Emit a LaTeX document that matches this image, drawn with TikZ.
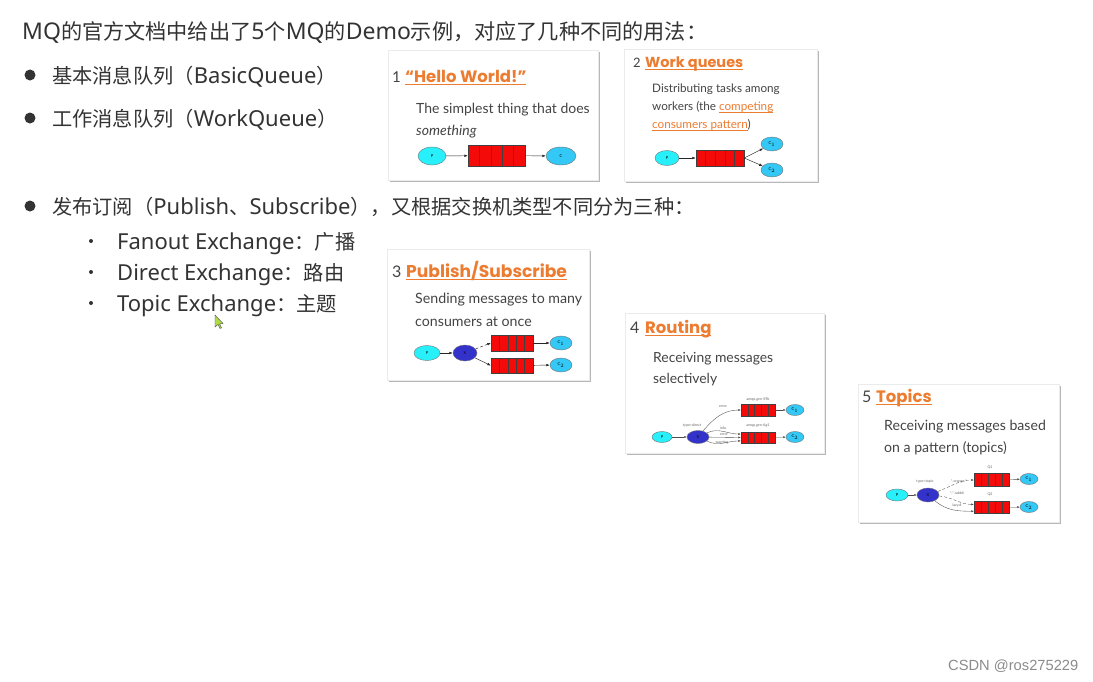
\documentclass[tikz,border=0pt]{standalone}
\usepackage{fontspec}
\setmainfont{Noto Sans}
\newfontfamily\cjk[Scale=0.92]{Noto Sans CJK SC}
\newfontfamily\cardfont{Lato}
\newfontfamily\titlefont{Poppins}
\newfontfamily\wmfont{Liberation Sans}
\usetikzlibrary{shapes.geometric,arrows.meta,shadows,calc}
\definecolor{txt}{RGB}{51,51,51}
\definecolor{ctxt}{RGB}{68,68,68}
\definecolor{org}{RGB}{236,124,48}
\definecolor{pcol}{RGB}{40,240,250}
\definecolor{ccol}{RGB}{51,200,245}
\definecolor{xcol}{RGB}{51,51,204}
\definecolor{qred}{RGB}{245,10,10}
\newcommand\fsz[1]{\fontsize{#1}{#1}\selectfont}
\newcommand\zh[1]{{\cjk #1}}
\newcommand\myul[2][0.6pt]{\setbox0\hbox{#2}\rlap{\rule[-0.18em]{\wd0}{#1}}\box0}
\tikzset{
  lbl/.style={anchor=base west, inner sep=0pt, txt, font=\fsz{22}},
  ctx/.style={anchor=base west, inner sep=0pt, ctxt, font=\cardfont},
  ttl/.style={anchor=base west, inner sep=0pt, org, font=\titlefont\bfseries},
  card/.style={anchor=north west, fill=white, draw=black!8, inner sep=0pt,
    drop shadow={shadow xshift=1.5pt, shadow yshift=-1.5pt, opacity=0.4, fill=black!70}},
  elli/.style={ellipse, draw=black!55, line width=0.4pt, inner sep=0pt, font=\cardfont\fsz{4}},
  pn/.style={elli, fill=pcol},
  cn/.style={elli, fill=ccol},
  xn/.style={elli, fill=xcol},
  queue/.style={rectangle, draw=black!75, fill=qred, inner sep=0pt, line width=0.4pt,
    path picture={\foreach \i in {1,...,4}{\draw[black!75, line width=0.4pt]
      ($(path picture bounding box.south west)!\i/5!(path picture bounding box.south east)$) --
      ($(path picture bounding box.north west)!\i/5!(path picture bounding box.north east)$);}}},
  arr/.style={-{Latex[length=3.5pt,width=2.6pt]}, black!85, line width=0.45pt},
  sarr/.style={-{Latex[length=2.5pt,width=2pt]}, black!70, line width=0.35pt},
  tiny/.style={inner sep=0pt, black!60, font=\cardfont\fsz{3.6}},
  bigdot/.style={circle, fill=txt, inner sep=0pt, minimum size=11pt},
  smalldot/.style={circle, fill=txt, inner sep=0pt, minimum size=4pt},
}
\begin{document}
\begin{tikzpicture}[x=1pt,y=-1pt]
\fill[white] (0,0) rectangle (1093,681);
\useasboundingbox (0,0) rectangle (1093,681);

% ---------- left text ----------
\node[lbl, font=\fsz{23}] (t0) at (22,39) {MQ\zh{的官方文档中给出了}5\zh{个}MQ\zh{的}Demo\zh{示例，对应了几种不同的用法：}};
\node[bigdot] (d1) at (30,75) {};
\node[lbl] (t1) at (52,83) {\zh{基本消息队列（}BasicQueue\zh{）}};
\node[bigdot] (d2) at (30,118) {};
\node[lbl] (t2) at (52,126) {\zh{工作消息队列（}WorkQueue\zh{）}};
\node[bigdot] (d3) at (30,206) {};
\node[lbl] (t3) at (52,214) {\zh{发布订阅（}Publish\zh{、}Subscribe\zh{），又根据交换机类型不同分为三种：}};
\node[smalldot] (s1) at (91,241) {};
\node[lbl] (u1) at (117,249) {Fanout Exchange\zh{：广播}};
\node[smalldot] (s2) at (91,272) {};
\node[lbl] (u2) at (117,280) {Direct Exchange\zh{：路由}};
\node[smalldot] (s3) at (91,303) {};
\node[lbl] (u3) at (117,311) {Topic Exchange\zh{：主题}};

% mouse cursor
\filldraw[fill=yellow!60!green!80, draw=black!70, line width=0.4pt]
  (215,315) -- (215,327) -- (218,324.5) -- (220,328.5) -- (221.5,327.8) -- (219.6,324) -- (223,323.5) -- cycle;

% ---------- card 1 ----------
\node[card, minimum width=210pt, minimum height=130pt] (c1) at (388,50) {};
\node[ctx] (n1) at (392,82) {\fsz{15}1};
\node[ttl] (h1) at (405,82) {\fsz{16.5}\myul[1.2pt]{“Hello World!”}};
\node[ctx] (b1a) at (416,113) {\fsz{14}The simplest thing that does};
\node[ctx] (b1b) at (416,135) {\itshape\fsz{14}something};
\node[pn, minimum width=28pt, minimum height=18pt] (p1) at (432,156) {P};
\node[queue, minimum width=57pt, minimum height=21pt] (q1) at (496.5,155.5) {};
\node[cn, minimum width=30pt, minimum height=18pt] (k1) at (561,156) {C};
\draw[arr] (p1) -- (q1);
\draw[arr] (q1) -- (k1);

% ---------- card 2 ----------
\node[card, minimum width=193pt, minimum height=132pt] (c2) at (624,49) {};
\node[ctx] (n2) at (633,67) {\fsz{13}2};
\node[ttl] (h2) at (645,67) {\fsz{14.5}\myul[1pt]{Work queues}};
\node[ctx] (b2a) at (652,92) {\fsz{11.7}Distributing tasks among};
\node[ctx] (b2b) at (652,110) {\fsz{11.7}workers (the \textcolor{org}{\myul[0.4pt]{competing}}};
\node[ctx] (b2c) at (652,128) {\fsz{11.7}\textcolor{org}{\myul[0.4pt]{consumers pattern}})};
\node[pn, minimum width=24pt, minimum height=15pt] (p2) at (667,158) {P};
\node[queue, minimum width=48pt, minimum height=16pt] (q2) at (720,158) {};
\node[cn, minimum width=22pt, minimum height=14pt] (k2a) at (772,144) {C$_1$};
\node[cn, minimum width=22pt, minimum height=14pt] (k2b) at (772,170) {C$_2$};
\draw[arr] (p2) -- (q2);
\draw[arr] (q2.east) -- (k2a);
\draw[arr] (q2.east) -- (k2b);

% ---------- card 3 ----------
\node[card, minimum width=202pt, minimum height=131pt] (c3) at (387,249) {};
\node[ctx] (n3) at (392,277) {\fsz{16}3};
\node[ttl] (h3) at (406,277) {\fsz{17.1}\myul[1.1pt]{Publish/Subscribe}};
\node[ctx] (b3a) at (415,303) {\fsz{14.2}Sending messages to many};
\node[ctx] (b3b) at (415,326) {\fsz{14.2}consumers at once};
\node[pn, minimum width=26pt, minimum height=15pt] (p3) at (427,353) {P};
\node[xn, minimum width=24pt, minimum height=16pt] (x3) at (465,353) {X};
\node[queue, minimum width=42pt, minimum height=16pt] (q3a) at (512,343) {};
\node[queue, minimum width=42pt, minimum height=15pt] (q3b) at (512,365.5) {};
\node[cn, minimum width=22pt, minimum height=14pt] (k3a) at (561,343) {C$_1$};
\node[cn, minimum width=22pt, minimum height=14pt] (k3b) at (561,365) {C$_2$};
\draw[arr] (p3) -- (x3);
\draw[arr, densely dashed] (x3) -- (q3a.west);
\draw[arr] (x3) -- (q3b.west);
\draw[arr] (q3a) -- (k3a);
\draw[arr] (q3b) -- (k3b);

% ---------- card 4 ----------
\node[card, minimum width=199pt, minimum height=140pt] (c4) at (625,313) {};
\node[ctx] (n4) at (630,333) {\fsz{16}4};
\node[ttl] (h4) at (645,333) {\fsz{16.5}\myul[1.1pt]{Routing}};
\node[ctx] (b4a) at (653,362) {\fsz{13.9}Receiving messages};
\node[ctx] (b4b) at (653,383) {\fsz{13.9}selectively};
\node[pn, minimum width=20pt, minimum height=11pt] (p4) at (662,437) {P};
\node[xn, minimum width=22pt, minimum height=13pt] (x4) at (698,437) {X};
\node[queue, minimum width=34pt, minimum height=12pt] (q4a) at (758,410) {};
\node[queue, minimum width=34pt, minimum height=11pt] (q4b) at (758,437.5) {};
\node[cn, minimum width=18pt, minimum height=11pt] (k4a) at (795,410) {C$_1$};
\node[cn, minimum width=18pt, minimum height=11pt] (k4b) at (795,437) {C$_2$};
\draw[sarr] (p4) -- (x4);
\draw[sarr] (x4) to[out=50, in=180] (q4a.west);
\draw[sarr] (x4) to[out=25, in=180] ($(q4b.north west)!0.2!(q4b.south west)$);
\draw[sarr] (x4) -- (q4b.west);
\draw[sarr] (x4) to[out=-25, in=180] ($(q4b.north west)!0.8!(q4b.south west)$);
\draw[sarr] (q4a) -- (k4a);
\draw[sarr] (q4b) -- (k4b);
\node[tiny] (l4a) at (758,399) {amqp.gen-S9b};
\node[tiny] (l4b) at (758,426) {amqp.gen-Ag1};
\node[tiny] (l4c) at (692,425) {type=direct};
\node[tiny] (l4d) at (723,407) {error};
\node[tiny] (l4e) at (723,428) {info};
\node[tiny] (l4f) at (724,434.5) {error};
\node[tiny] (l4g) at (722,443) {warning};

% ---------- card 5 ----------
\node[card, minimum width=201pt, minimum height=138pt] (c5) at (858,384) {};
\node[ctx] (n5) at (862,402) {\fsz{16}5};
\node[ttl] (h5) at (876,402) {\fsz{16.5}\myul[1.1pt]{Topics}};
\node[ctx] (b5a) at (884,430) {\fsz{14.1}Receiving messages based};
\node[ctx] (b5b) at (884,452) {\fsz{14.1}on a pattern (topics)};
\node[pn, minimum width=22pt, minimum height=12pt] (p5) at (897,495) {P};
\node[xn, minimum width=22pt, minimum height=14pt] (x5) at (928,495) {X};
\node[queue, minimum width=35pt, minimum height=13pt] (q5a) at (991.5,480) {};
\node[queue, minimum width=35pt, minimum height=12pt] (q5b) at (991.5,507.5) {};
\node[cn, minimum width=18pt, minimum height=11pt] (k5a) at (1029,479) {C$_1$};
\node[cn, minimum width=18pt, minimum height=11pt] (k5b) at (1029,507) {C$_2$};
\draw[sarr] (p5) -- (x5);
\draw[sarr, densely dashed] (x5) to[out=20, in=180] (q5a.west);
\draw[sarr, densely dashed] (x5) to[out=-5, in=180] ($(q5b.north west)!0.25!(q5b.south west)$);
\draw[sarr] (x5) to[out=-40, in=180] ($(q5b.north west)!0.8!(q5b.south west)$);
\draw[sarr] (q5a) -- (k5a);
\draw[sarr] (q5b) -- (k5b);
\node[tiny] (l5a) at (990,467) {Q1};
\node[tiny] (l5b) at (990,494) {Q2};
\node[tiny] (l5c) at (925,481) {type=topic};
\node[tiny] (l5d) at (959,481) {*.orange.*};
\node[tiny] (l5e) at (957,493) {*.*.rabbit};
\node[tiny] (l5f) at (957,505) {lazy.\#};

% ---------- watermark ----------
\node[anchor=base west, inner sep=0pt, black!45, font=\wmfont\fsz{14.7}] (wm) at (948,670) {CSDN @ros275229};
\end{tikzpicture}
\end{document}
